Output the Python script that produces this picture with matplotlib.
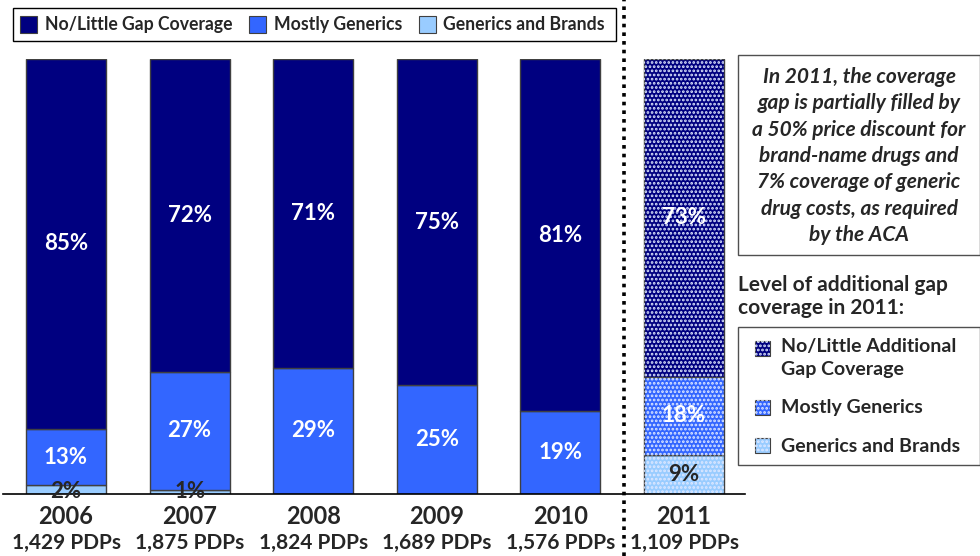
import matplotlib
matplotlib.use("Agg")
import matplotlib.pyplot as plt
from matplotlib.patches import Rectangle
from matplotlib.lines import Line2D

plt.rcParams["font.family"] = ["Lato", "DejaVu Sans"]
plt.rcParams["hatch.linewidth"] = 1.3

# ---- data -------------------------------------------------------------
years = ["2006", "2007", "2008", "2009", "2010", "2011"]
plan_counts = ["1,429 PDPs", "1,875 PDPs", "1,824 PDPs", "1,689 PDPs", "1,576 PDPs", "1,109 PDPs"]
generics_brands = [2, 1, 0, 0, 0, 9]
mostly_generics = [13, 27, 29, 25, 19, 18]
no_little = [85, 72, 71, 75, 81, 73]

series_names = ["No/Little Gap Coverage", "Mostly Generics", "Generics and Brands"]
series_names_2011 = ["No/Little Additional\nGap Coverage", "Mostly Generics", "Generics and Brands"]

note_text = ("In 2011, the coverage\ngap is partially filled by\na 50% price discount for\n"
             "brand-name drugs and\n7% coverage of generic\ndrug costs, as required\nby the ACA")
level_title = "Level of additional gap\ncoverage in 2011:"

# ---- style ------------------------------------------------------------
C_DARK = "#000080"
C_MID = "#3366FF"
C_LIGHT = "#99CCFF"
EDGE = "#404040"
TXT = "#262626"
HATCH = "#dfe8ff"

W, H = 980, 556
fig = plt.figure(figsize=(W / 100, H / 100), dpi=100)


def fx(px):
    return px / W


def fy(py):
    return 1 - py / H


# axes: x from 0 to 745 px, y from 59 (top, 100%) to 494 (baseline)
spacing = 123.6
c0 = 66
ax = fig.add_axes([fx(0), fy(494), fx(745), (494 - 59) / H])
ax.set_xlim(-c0 / spacing, (745 - c0) / spacing)
ax.set_ylim(0, 100)
ax.axis("off")
ax.axhline(0, color="black", lw=1.2, xmin=3 / 745, xmax=1, zorder=5, clip_on=False)

x = list(range(len(years)))
bw = 80 / spacing

bottoms_mid = generics_brands
bottoms_dark = [a + b for a, b in zip(generics_brands, mostly_generics)]

for i in x:
    hatched = (i == 5)
    segs = [(0, generics_brands[i], C_LIGHT), (bottoms_mid[i], mostly_generics[i], C_MID),
            (bottoms_dark[i], no_little[i], C_DARK)]
    for b, h, c in segs:
        if h <= 0:
            continue
        ax.bar(i, h, bottom=b, width=bw, color=c, edgecolor=EDGE, linewidth=1.0, zorder=2)
        if hatched:
            ax.bar(i, h, bottom=b, width=bw, color="none", edgecolor=HATCH,
                   linewidth=0, hatch="....", zorder=3)

    # value labels
    ax.text(i, bottoms_dark[i] + no_little[i] / 2, f"{no_little[i]}%", ha="center", va="center",
            color="white", fontsize=16, fontweight="bold", zorder=6)
    ax.text(i, bottoms_mid[i] + mostly_generics[i] / 2, f"{mostly_generics[i]}%", ha="center",
            va="center", color="white", fontsize=16, fontweight="bold", zorder=6)
    if generics_brands[i] > 0:
        y = generics_brands[i] / 2 if generics_brands[i] >= 5 else 0.6
        ax.text(i, y, f"{generics_brands[i]}%", ha="center", va="center",
                color=TXT, fontsize=16, fontweight="bold", zorder=6)

    # category labels
    ax.text(i, -2.5, years[i], ha="center", va="top", color=TXT, fontsize=17,
            fontweight="bold", clip_on=False)
    ax.text(i, -9.0, plan_counts[i], ha="center", va="top", color=TXT, fontsize=15,
            fontweight="bold", clip_on=False)

# dotted separator between historical and 2011 bars
fig.add_artist(Line2D([fx(624), fx(624)], [0, 1], color="black", lw=2.6,
                      linestyle=(0, (1, 1.4)), solid_capstyle="butt",
                      dash_capstyle="butt"))

# ---- top legend ---------------------------------------------------------
fig.add_artist(Rectangle((fx(13), fy(41)), fx(603), (41 - 8) / H, transform=fig.transFigure,
                         facecolor="white", edgecolor="black", lw=1.0))
leg_items = [(20, 45, C_DARK), (249, 274, C_MID), (419, 443, C_LIGHT)]
for (px, tx, c), name in zip(leg_items, series_names):
    fig.add_artist(Rectangle((fx(px), fy(33)), fx(17), 17 / H, transform=fig.transFigure,
                             facecolor=c, edgecolor=EDGE, lw=0.8))
    fig.text(fx(tx), fy(24.5), name, ha="left", va="center", fontsize=12.7, fontweight="bold",
             color=TXT)

# ---- explanatory note ---------------------------------------------------
fig.add_artist(Rectangle((fx(738), fy(255)), fx(242), (255 - 55) / H, transform=fig.transFigure,
                         facecolor="white", edgecolor="#505050", lw=1.0, clip_on=False))
fig.text(fx(859), fy(156), note_text, ha="center", va="center", fontsize=15,
         fontweight="bold", fontstyle="italic", color=TXT, linespacing=1.4)

fig.text(fx(738), fy(296.5), level_title, ha="left", va="center", fontsize=15,
         fontweight="bold", color=TXT, linespacing=1.2)

# ---- 2011 legend ---------------------------------------------------------
fig.add_artist(Rectangle((fx(738), fy(465)), fx(242), (465 - 327) / H, transform=fig.transFigure,
                         facecolor="white", edgecolor="#505050", lw=1.0))
leg2 = [(349, 358, C_DARK), (408, 408, C_MID), (446, 446, C_LIGHT)]
for (py, ty, c), name in zip(leg2, series_names_2011):
    fig.add_artist(Rectangle((fx(755), fy(py + 7)), fx(15), 15 / H, transform=fig.transFigure,
                             facecolor=c, edgecolor=EDGE, lw=0.8))
    fig.add_artist(Rectangle((fx(755), fy(py + 7)), fx(15), 15 / H, transform=fig.transFigure,
                             facecolor="none", edgecolor=HATCH, lw=0, hatch="...."))
    fig.text(fx(781), fy(ty), name, ha="left", va="center", fontsize=14, fontweight="bold",
             color=TXT, linespacing=1.45)

fig.savefig("out.png", dpi=100)
